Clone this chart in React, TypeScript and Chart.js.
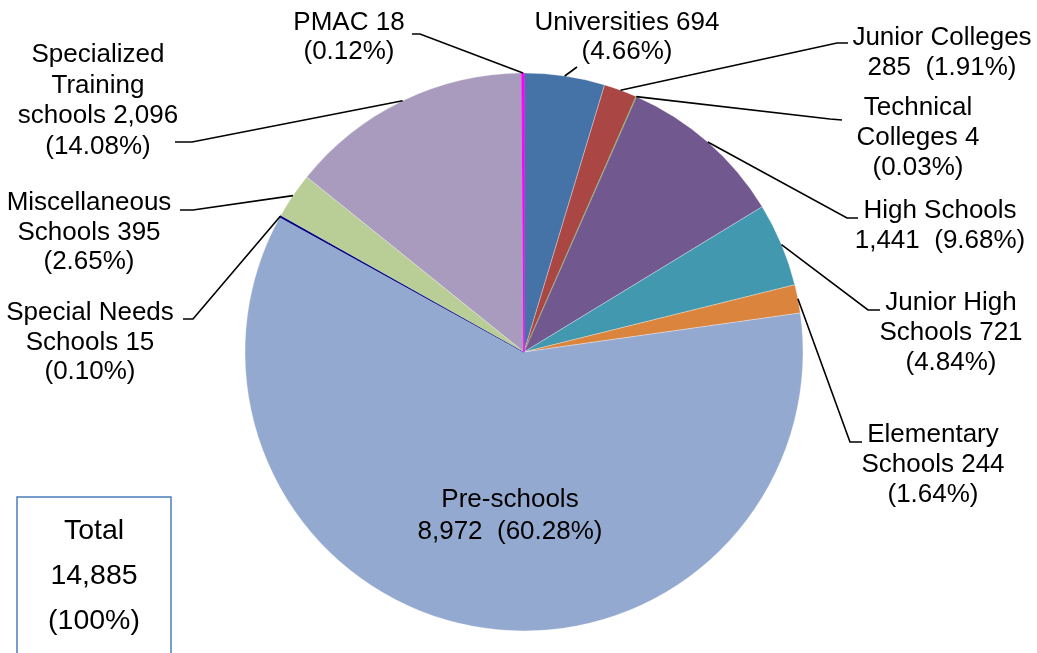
import React, { useEffect, useRef } from "react";
import { Chart, registerables } from "chart.js";

Chart.register(...registerables);

// ---- Data ----
const categories = [
  "Universities",
  "Junior Colleges",
  "Technical Colleges",
  "High Schools",
  "Junior High Schools",
  "Elementary Schools",
  "Pre-schools",
  "Special Needs Schools",
  "Miscellaneous Schools",
  "Specialized Training schools",
  "PMAC",
];
const values = [694, 285, 4, 1441, 721, 244, 8972, 15, 395, 2096, 18];
const colors = [
  "#4572A7",
  "#AA4643",
  "#89A54E",
  "#71588F",
  "#4198AF",
  "#DB843D",
  "#93A9CF",
  "#000080",
  "#B9CD96",
  "#A99BBD",
  "#FF00FF",
];
// label text templates: {v} = value, {p} = percentage
const labelTemplates = [
  ["Universities {v}", "({p})"],
  ["Junior Colleges", "{v}  ({p})"],
  ["Technical", "Colleges {v}", "({p})"],
  ["High Schools", "{v}  ({p})"],
  ["Junior High", "Schools {v}", "({p})"],
  ["Elementary", "Schools {v}", "({p})"],
  ["Pre-schools", "{v}  ({p})"],
  ["Special Needs", "Schools {v}", "({p})"],
  ["Miscellaneous", "Schools {v}", "({p})"],
  ["Specialized", "Training", "schools {v}", "({p})"],
  ["PMAC {v}", "({p})"],
];
const totalLines = ["Total", "14,885", "(100%)"];

// ---- Label layout (offsets from pie centre, px) ----
type LabelLayout = {
  text: [number, number];
  spacing: number;
  elbow: [number, number] | null;
  end: [number, number] | null;
};
const labelLayout: LabelLayout[] = [
  { text: [103, -329], spacing: 28.5, elbow: [53, -285], end: null },
  { text: [418, -314], spacing: 29.5, elbow: [313, -309], end: [324, -309] },
  { text: [394, -244], spacing: 30, elbow: [306, -233], end: [318, -232] },
  { text: [416, -141], spacing: 30, elbow: [323, -134], end: [334, -134] },
  { text: [427, -49], spacing: 30, elbow: [344, -42], end: [356, -42] },
  { text: [409, 83], spacing: 30, elbow: [326, 90], end: [338, 90] },
  { text: [-14, 148], spacing: 32, elbow: null, end: null },
  { text: [-434, -39], spacing: 29.5, elbow: [-331, -33], end: [-341, -33] },
  { text: [-435, -149], spacing: 29.5, elbow: [-331, -142], end: [-344, -142] },
  { text: [-426, -297], spacing: 30.5, elbow: [-332, -210], end: [-349, -210] },
  { text: [-175, -329], spacing: 28.5, elbow: [-104, -318], end: [-112, -318] },
];

const FONT = '26px "Liberation Sans", Arial, sans-serif';
const TOTAL_FONT = '28.5px "Liberation Sans", Arial, sans-serif';

const total = values.reduce((a, b) => a + b, 0);

function buildLines(i: number): string[] {
  const v = values[i].toLocaleString("en-US");
  const p = ((values[i] / total) * 100).toFixed(2) + "%";
  return labelTemplates[i].map((t) => t.replace("{v}", v).replace("{p}", p));
}

const labelPlugin = {
  id: "pieLabels",
  afterDraw(chart: any) {
    const ctx = chart.ctx as CanvasRenderingContext2D;
    const meta = chart.getDatasetMeta(0);
    ctx.save();
    meta.data.forEach((arc: any, i: number) => {
      const { x, y, startAngle, endAngle, outerRadius } = arc.getProps(
        ["x", "y", "startAngle", "endAngle", "outerRadius"],
        true
      );
      const mid = (startAngle + endAngle) / 2;
      const sx = x + Math.cos(mid) * outerRadius;
      const sy = y + Math.sin(mid) * outerRadius;
      const lay = labelLayout[i];
      if (lay.elbow) {
        ctx.beginPath();
        ctx.strokeStyle = "#000";
        ctx.lineWidth = 1.6;
        ctx.moveTo(sx, sy);
        ctx.lineTo(x + lay.elbow[0], y + lay.elbow[1]);
        if (lay.end) ctx.lineTo(x + lay.end[0], y + lay.end[1]);
        ctx.stroke();
      }
      const lines = buildLines(i);
      ctx.fillStyle = "#000";
      ctx.font = FONT;
      ctx.textAlign = "center";
      ctx.textBaseline = "middle";
      lines.forEach((ln, k) => {
        ctx.fillText(ln, x + lay.text[0], y + lay.text[1] + k * lay.spacing);
      });
    });

    // Total box (bottom-left)
    const bx = 17;
    const by = 497;
    const bw = 154;
    const bh = 200;
    ctx.strokeStyle = "#4A7EBB";
    ctx.lineWidth = 1.5;
    ctx.strokeRect(bx, by, bw, bh);
    ctx.font = TOTAL_FONT;
    ctx.fillStyle = "#000";
    ctx.textAlign = "center";
    ctx.textBaseline = "middle";
    totalLines.forEach((ln, k) => {
      ctx.fillText(ln, bx + bw / 2, 531 + k * 45);
    });
    ctx.restore();
  },
};

export default function App() {
  const ref = useRef<HTMLCanvasElement | null>(null);
  useEffect(() => {
    if (!ref.current) return;
    const chart = new Chart(ref.current, {
      type: "pie",
      data: {
        labels: categories,
        datasets: [
          {
            data: values,
            backgroundColor: colors,
            borderColor: colors.map((c, i) =>
              values[i] / total < 0.002 ? c : "rgba(255,255,255,0.5)"
            ),
            borderWidth: values.map((v) => (v / total < 0.002 ? 1 : 0.6)),
          },
        ],
      },
      options: {
        responsive: false,
        animation: false,
        layout: { padding: { top: 72.5, bottom: 21.5, left: 244.5, right: 233.5 } },
        plugins: {
          legend: { display: false },
          tooltip: { enabled: false },
        },
      },
      plugins: [labelPlugin],
    });
    return () => chart.destroy();
  }, []);
  return (
    <div style={{ position: "absolute", left: 0, top: 0, width: 1037, height: 653, background: "#fff" }}>
      <canvas ref={ref} width={1037} height={653} />
    </div>
  );
}
